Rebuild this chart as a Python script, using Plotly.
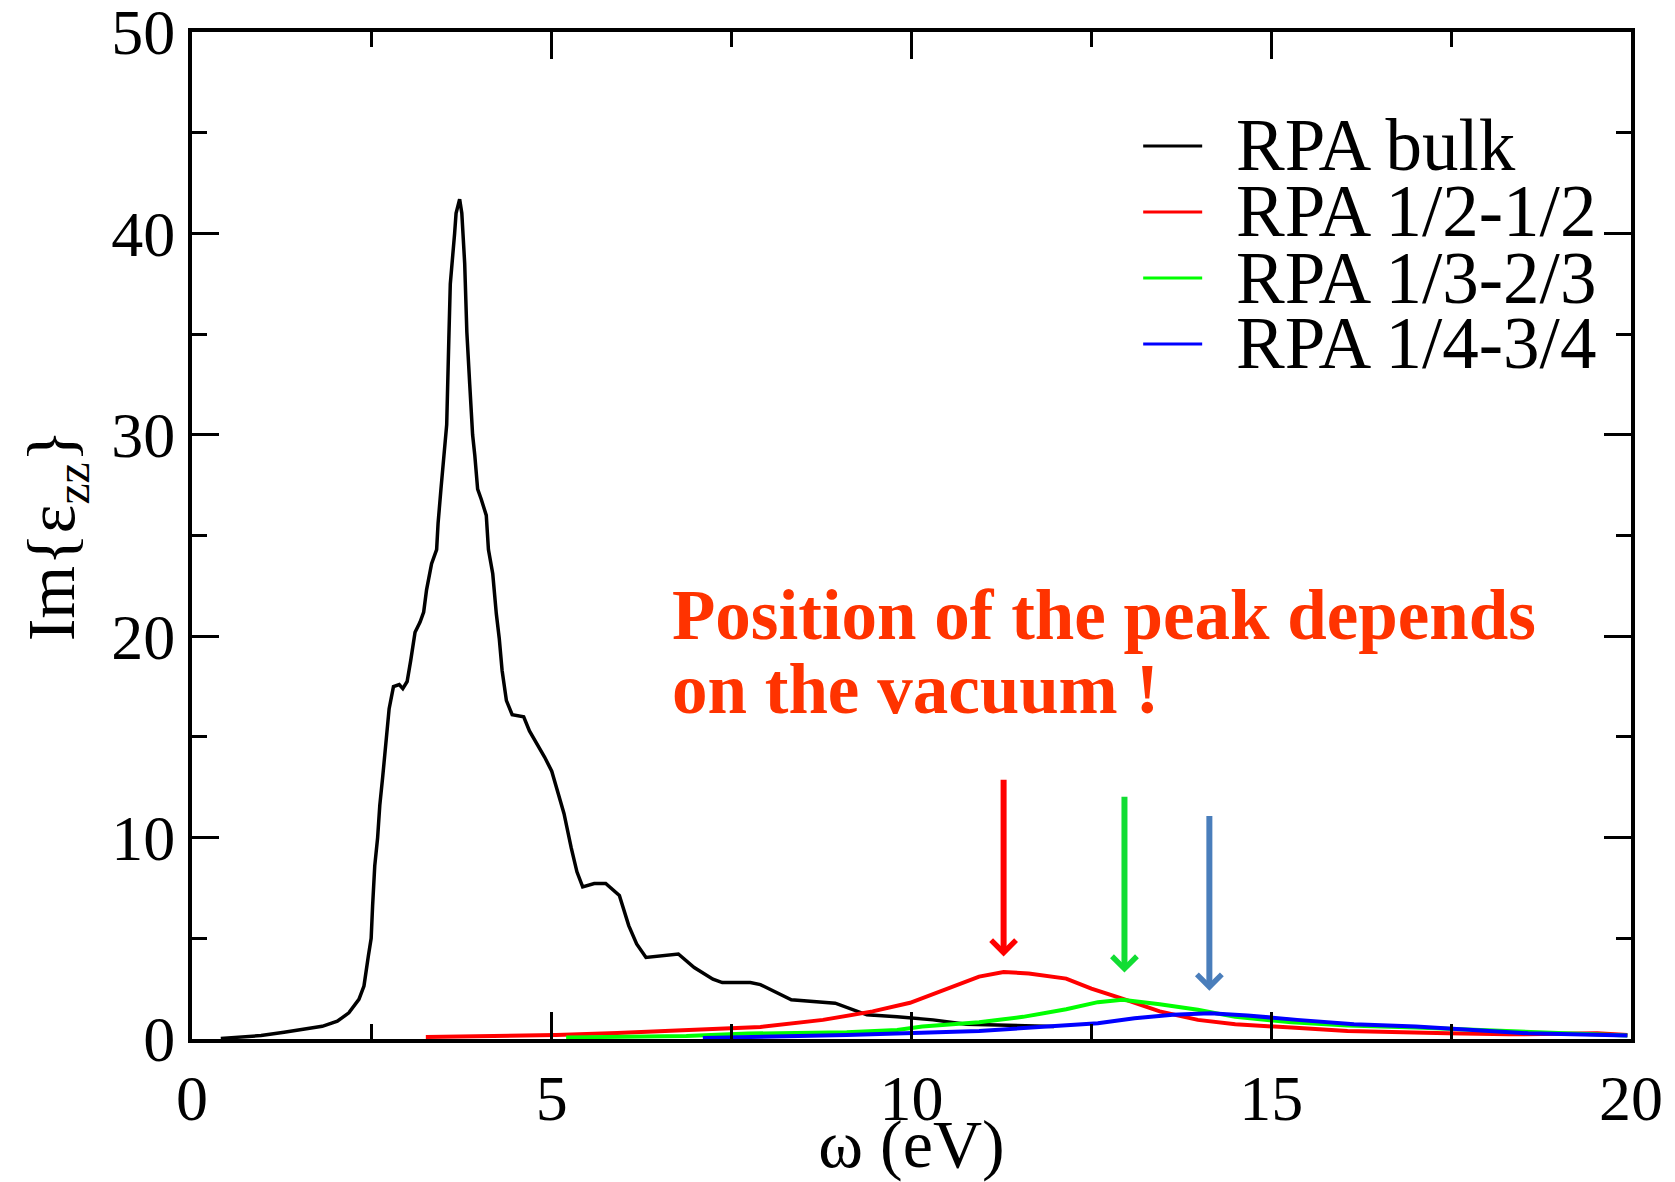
import plotly.graph_objects as go

# Im{eps_zz} spectra (omega in eV)
bulk_w = [0.4, 0.96, 1.28, 1.54, 1.81, 2.02, 2.18, 2.32, 2.39, 2.45, 2.49, 2.51, 2.54, 2.58,
          2.61, 2.65, 2.69, 2.74, 2.8, 2.88, 2.93, 2.99, 3.04, 3.1, 3.17, 3.22, 3.26, 3.33,
          3.4, 3.42, 3.46, 3.5, 3.54, 3.57, 3.59, 3.65, 3.67, 3.72, 3.75, 3.79, 3.82, 3.86,
          3.9, 3.93, 3.97, 4.02, 4.09, 4.12, 4.18, 4.23, 4.27, 4.31, 4.37, 4.45, 4.61, 4.69,
          4.79, 4.9, 5.0, 5.06, 5.17, 5.27, 5.35, 5.43, 5.59, 5.75, 5.94, 6.07, 6.18, 6.31,
          6.5, 6.76, 6.98, 7.24, 7.37, 7.76, 7.9, 8.33, 8.94, 9.38, 9.8, 10.3, 10.76, 11.37,
          11.98]
bulk_eps = [0.03, 0.17, 0.33, 0.47, 0.63, 0.88, 1.3, 1.97, 2.63, 4.1, 5.0, 6.6, 8.6, 10.0,
            11.6, 13.0, 14.5, 16.4, 17.5, 17.6, 17.4, 17.75, 18.8, 20.2, 20.7, 21.2, 22.3, 23.6,
            24.3, 25.6, 27.3, 28.8, 30.5, 34.8, 37.5, 40.0, 41.0, 41.7, 41.0, 38.5, 35.1, 32.5,
            30.0, 29.0, 27.3, 26.8, 26.0, 24.3, 23.1, 21.1, 19.9, 18.3, 16.8, 16.1, 16.0, 15.3,
            14.7, 14.0, 13.3, 12.5, 11.2, 9.5, 8.3, 7.55, 7.72, 7.72, 7.13, 5.63, 4.72, 4.05,
            4.13, 4.22, 3.55, 2.97, 2.8, 2.8, 2.7, 1.95, 1.78, 1.2, 1.1, 0.95, 0.73, 0.67,
            0.62]

half_w = [3.25, 5.06, 5.91, 6.87, 7.35, 7.9, 8.77, 9.46, 9.98, 10.5, 10.94, 11.28, 11.63,
          12.15, 12.5, 12.93, 13.45, 13.98, 14.5, 15.28, 16.06, 17.45, 18.3, 19.53, 19.95]
half_eps = [0.1, 0.2, 0.3, 0.45, 0.55, 0.6, 0.95, 1.37, 1.8, 2.5, 3.1, 3.33, 3.25,
            3.0, 2.5, 2.0, 1.37, 0.95, 0.73, 0.57, 0.4, 0.28, 0.23, 0.28, 0.2]

third_w = [5.2, 6.87, 7.73, 9.1, 9.8, 10.15, 10.94, 11.55, 12.15, 12.59, 12.93, 13.45, 13.98,
           14.5, 15.28, 16.06, 17.01, 17.88, 18.84, 19.95]
third_eps = [0.08, 0.15, 0.27, 0.33, 0.45, 0.62, 0.83, 1.1, 1.48, 1.83, 1.95, 1.73, 1.45,
             1.1, 0.83, 0.67, 0.57, 0.45, 0.28, 0.17]

quarter_w = [7.1, 9.1, 10.94, 11.55, 12.07, 12.59, 13.1, 13.63, 14.15, 14.67, 15.36, 16.15,
             17.01, 17.88, 18.57, 19.95]
quarter_eps = [0.05, 0.2, 0.4, 0.53, 0.62, 0.78, 1.03, 1.2, 1.28, 1.17, 0.95, 0.73,
               0.62, 0.45, 0.28, 0.17]

series_names = ["RPA bulk", "RPA 1/2-1/2", "RPA 1/3-2/3", "RPA 1/4-3/4"]

x_ticks = [0, 5, 10, 15, 20]
y_ticks = [0, 10, 20, 30, 40, 50]

# vacuum-dependent peak markers: position, arrow tip, arrow tail
peak_w = [11.28, 12.96, 14.14]
peak_tip = [4.1, 3.3, 2.4]
peak_tail = [12.95, 12.1, 11.15]

SERIF = "Liberation Serif"
line_colors = ["#000000", "#ff0000", "#00ff00", "#0000ff"]
line_widths = [3.5, 4, 4, 4]
arrow_colors = ["#ff0000", "#11dd33", "#4a7ebb"]

fig = go.Figure()
for (w, e), name, col, lw in zip(
        [(bulk_w, bulk_eps), (half_w, half_eps), (third_w, third_eps), (quarter_w, quarter_eps)],
        series_names, line_colors, line_widths):
    fig.add_trace(go.Scatter(x=w, y=e, mode="lines", name=name,
                             line=dict(color=col, width=lw), showlegend=False))

# legend drawn as line samples + labels
leg_y = [0.8868, 0.8213, 0.7557, 0.6902]
for name, col, ly in zip(series_names, line_colors, leg_y):
    fig.add_shape(type="line", xref="paper", yref="paper", x0=0.661, x1=0.702, y0=ly, y1=ly,
                  line=dict(color=col, width=3))
    fig.add_annotation(xref="paper", yref="paper", x=0.7241, y=ly, text=name, showarrow=False,
                       xanchor="left", yanchor="middle",
                       font=dict(family=SERIF, size=73, color="black"))

# peak arrows
for w, tip, tail, col in zip(peak_w, peak_tip, peak_tail, arrow_colors):
    fig.add_annotation(x=w, y=tip, ax=w, ay=tail, axref="x", ayref="y", xref="x", yref="y",
                       text="", showarrow=True, arrowhead=4, arrowsize=0.8, arrowwidth=6,
                       arrowcolor=col)

red_font = dict(family=SERIF, size=71, color="#ff3300", weight="bold")
fig.add_annotation(x=6.64, y=21.05, xref="x", yref="y", text="<b>Position of the peak depends</b>",
                   showarrow=False, xanchor="left", yanchor="middle", font=red_font)
fig.add_annotation(x=6.64, y=17.38, xref="x", yref="y", text="<b>on the vacuum !</b>",
                   showarrow=False, xanchor="left", yanchor="middle", font=red_font)

axis_common = dict(showline=True, linecolor="black", linewidth=4, mirror="allticks",
                   ticks="inside", ticklen=27, tickwidth=3, tickcolor="black",
                   showgrid=False, zeroline=False, automargin=False, tickmode="array",
                   ticklabeloverflow="allow",
                   tickfont=dict(family=SERIF, size=64, color="black"))

fig.update_xaxes(range=[0, 20], tickvals=x_ticks, ticktext=[str(v) for v in x_ticks],
                 minor=dict(dtick=2.5, tick0=0, ticklen=15, tickwidth=3, ticks="inside",
                            tickcolor="black"),
                 title=dict(text="ω (eV)", font=dict(family=SERIF, size=68, color="black"),
                            standoff=0),
                 **axis_common)
fig.update_yaxes(range=[0, 50], tickvals=y_ticks, ticktext=[str(v) for v in y_ticks],
                 minor=dict(dtick=5, tick0=0, ticklen=15, tickwidth=3, ticks="inside",
                            tickcolor="black"),
                 title=dict(text="Im{ε<sub>zz</sub>}", font=dict(family=SERIF, size=68, color="black"),
                            standoff=15),
                 **axis_common)

fig.update_layout(width=1675, height=1182, margin=dict(l=192, r=44, t=32, b=143),
                  plot_bgcolor="white", paper_bgcolor="white")

fig.write_html("out.html")
